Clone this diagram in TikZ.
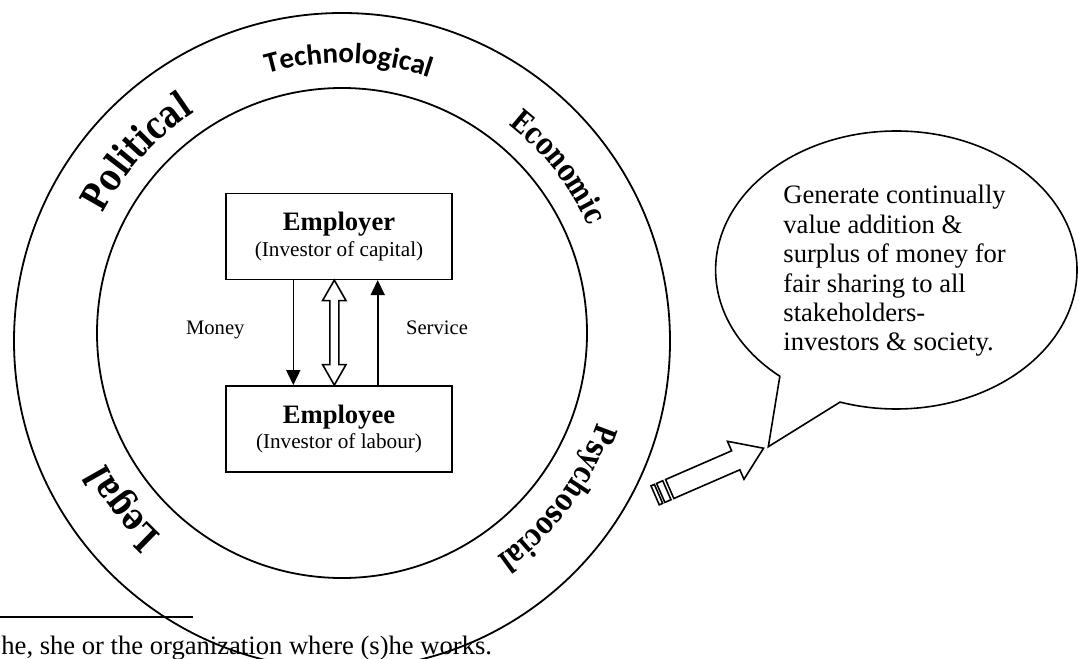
\documentclass[tikz,border=0pt]{standalone}
\usepackage{fontspec}
\setmainfont{Liberation Serif}
\newfontfamily\ringfont{DejaVu Serif}[FakeStretch=0.78]
\newfontfamily\archfont{Carlito}
\usetikzlibrary{positioning,arrows.meta,calc,decorations.text,shapes.callouts}
\newcommand{\bigring}{\ringfont\bfseries\fontsize{19}{21}\selectfont}
\newcommand{\smallring}{\ringfont\bfseries\fontsize{15.3}{17}\selectfont}
\newcommand{\archring}{\archfont\bfseries\fontsize{14.5}{16}\selectfont}
\newcommand{\subline}[1]{{\fontsize{10.6}{12.8}\selectfont(#1)}}
\tikzset{
  ring/.style={line width=0.9pt},
  party/.style={draw, line width=0.8pt, minimum width=113pt, minimum height=43pt,
                align=center, inner sep=2pt, font=\fontsize{13.3}{12.8}\selectfont},
  flow/.style={-{Triangle[length=7.5pt,width=7pt]}, line width=0.8pt},
  hollow/.style={draw, line width=0.8pt, fill=white, line join=miter},
  lbl/.style={font=\fontsize{10.3}{12}\selectfont, inner sep=1pt},
  % ring labels: baseline on the arc, letters facing outward
  force/.style={decorate, decoration={text along path, text align=center, text={#1}}},
}

\begin{document}
\begin{tikzpicture}[x=0.5pt, y=0.5pt]
\path[use as bounding box, fill=white] (0,0) rectangle (1079,-658);

%% ── footnote remains ──────────────────────────────────────────────────────
\draw[line width=1pt] (0,-616.7) -- (193,-616.7);
\node[anchor=base west, inner sep=0pt, font=\fontsize{13.3}{15}\selectfont] (note)
  at (1,-654) {he, she or the organization where (s)he works.};

%% ── the environment rings ─────────────────────────────────────────────────
\coordinate (hub) at (342,-337);
\draw[ring] (342,-341) circle[radius=328];
\draw[ring] (342,-333) circle[radius=245];

\path[force={|\archring|Technological}]
  ($(hub)+(118.6:274)$) arc[start angle=118.6, end angle=58.6, radius=274];
\path[force={|\bigring|Political}]
  ($(hub)+(168:269)$) arc[start angle=168, end angle=108, radius=269];
\path[force={|\smallring|Economic}]
  ($(hub)+(68:270)$) arc[start angle=68, end angle=8, radius=270];
\path[force={|\smallring|Psychosocial}]
  ($(hub)+(-6.7:269)$) arc[start angle=-6.7, end angle=-66.7, radius=269];
\path[force={|\bigring|Legal}]
  ($(hub)+(248:268)$) arc[start angle=248, end angle=188, radius=268];

%% ── the two parties ───────────────────────────────────────────────────────
\node[party] (boss) at (339,-236.3)
  {\textbf{Employer}\\\subline{Investor of capital}};
\node[party, below=52.5pt of boss] (worker)
  {\textbf{Employee}\\\subline{Investor of labour}};

\draw[flow] ([xshift=-22.85pt]boss.south) -- ([xshift=-22.85pt]worker.north);
\draw[flow] ([xshift=19.35pt]worker.north) -- ([xshift=19.35pt]boss.south);
\draw[hollow] ([xshift=-2.35pt]boss.south) -- ++(11.7,-20.5) -- ++(-7.2,0)
  -- ++(0,-64) -- ++(7.2,0) -- ++(-11.7,-20.5) -- ++(-11.7,20.5)
  -- ++(7.2,0) -- ++(0,64) -- ++(-7.2,0) -- cycle;

\node[lbl, anchor=base] (money) at (215.3,-334) {Money};
\node[lbl, anchor=base] (service) at (437,-334) {Service};

%% ── the outcome ───────────────────────────────────────────────────────────
\coordinate (hint) at (768.3,-446.7);
\node[ellipse callout, draw, line width=0.8pt, minimum width=180.7pt,
      minimum height=139pt, inner sep=0pt, callout absolute pointer={(hint)},
      callout pointer arc=22] (bubble) at (896.3,-270) {};
\node[anchor=north west, align=left, inner sep=0pt,
      font=\fontsize{13.3}{14.7}\selectfont] (goal) at (783,-185)
  {Generate continually\\value addition \&\\surplus of money for\\
   fair sharing to all\\stakeholders-\\investors \& society.};

% striped block arrow pointing at the bubble
\coordinate (tail) at (669.7,-489);
\begin{scope}[shift={(tail)}, rotate=23.5]
  \draw[hollow] (0,10.35) -- (72,10.35) -- (72,20.7) -- (102.3,0)
    -- (72,-20.7) -- (72,-10.35) -- (0,-10.35) -- cycle;
  \draw[hollow] (-9.8,-10.35) rectangle (-3.1,10.35);
  \draw[hollow] (-15.9,-10.35) rectangle (-12.2,10.35);
\end{scope}

\end{tikzpicture}
\end{document}
